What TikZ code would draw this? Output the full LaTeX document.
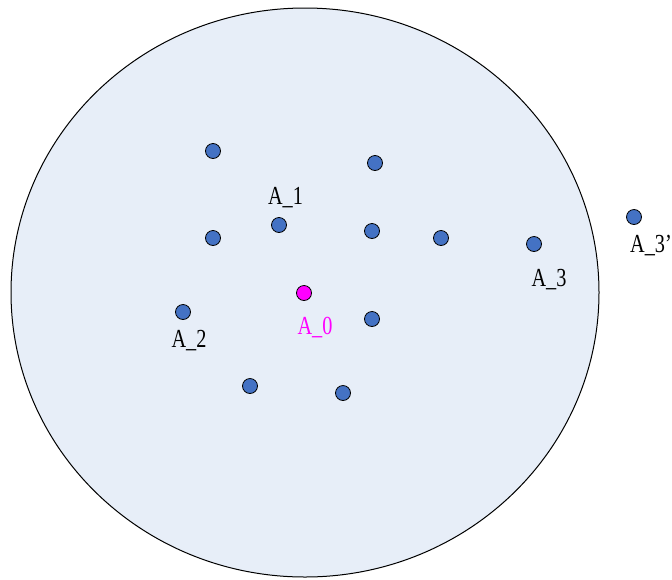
\documentclass[tikz,border=0pt]{standalone}
\usepackage{fontspec}
\setmainfont{Liberation Serif}
\newfontfamily\lblfont[FakeStretch=0.78]{Liberation Serif}
\begin{document}
\begin{tikzpicture}[x=1pt,y=-1pt,
  dot/.style={circle,draw=black,line width=0.8pt,fill=dotblue,minimum size=15pt,inner sep=0pt},
  lbl/.style={font=\lblfont\fontsize{26}{26}\selectfont,anchor=base,inner sep=0pt}]
\definecolor{dotblue}{HTML}{4472C4}
\definecolor{areafill}{HTML}{E7EEF8}
\definecolor{mag}{HTML}{FF00FF}
\useasboundingbox (0,0) rectangle (672,579);
\clip (0,0) rectangle (672,579);
\fill[white] (0,0) rectangle (672,579);
\draw[fill=areafill,line width=1pt] (305,292.5) ellipse [x radius=294, y radius=284.5];
% dots
\node[dot] (d1) at (213,151) {};
\node[dot] (d2) at (375,163) {};
\node[dot] (a1) at (279,225) {};
\node[dot] (d3) at (213,238) {};
\node[dot] (d4) at (372,231) {};
\node[dot] (d5) at (441,238) {};
\node[dot] (a3) at (534,244) {};
\node[dot] (a3p) at (634,217) {};
\node[dot] (a2) at (183,312) {};
\node[dot,fill=mag] (a0) at (304,293) {};
\node[dot] (d6) at (372,319) {};
\node[dot] (d7) at (250,386) {};
\node[dot] (d8) at (343,393) {};
% labels
\node[lbl] (l1) at (285.5,204) {A\_1};
\node[lbl,text=mag] (l0) at (315,334) {A\_0};
\node[lbl] (l2) at (189,347) {A\_2};
\node[lbl] (l3) at (549,286) {A\_3};
\node[lbl,anchor=base west] (l3p) at (630,252) {A\_3’};
\end{tikzpicture}
\end{document}
